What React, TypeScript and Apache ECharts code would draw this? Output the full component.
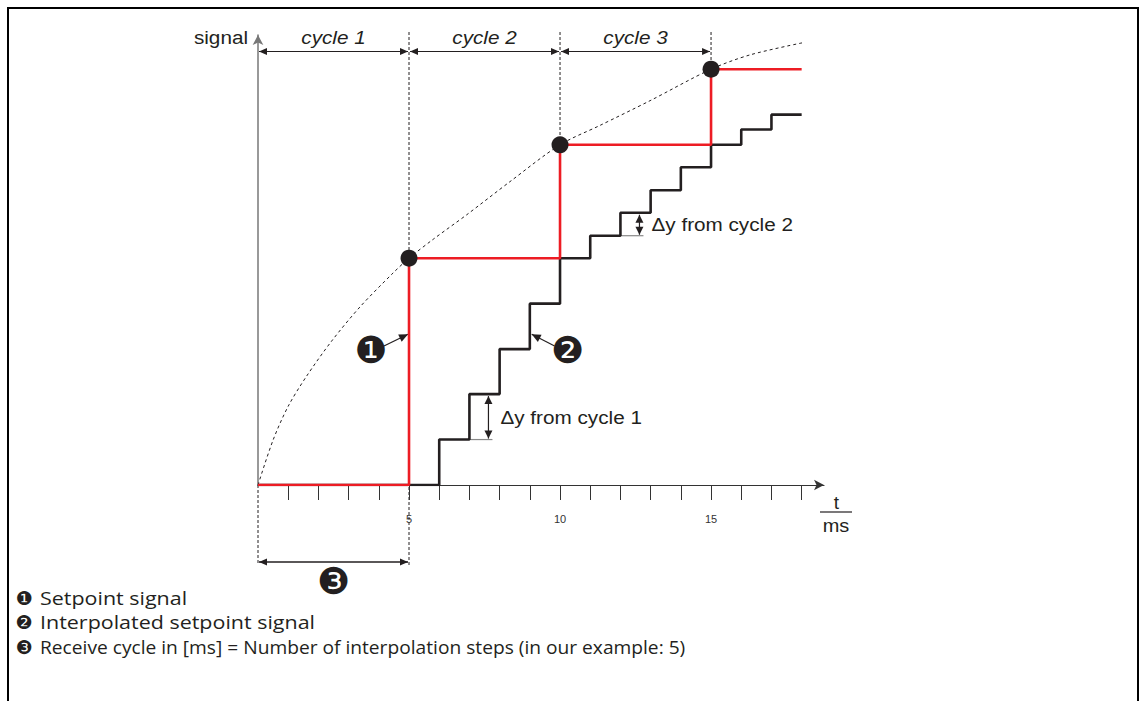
import React, { useEffect, useRef } from "react";
import * as echarts from "echarts";

// ---- data ----
const setpointT = [0, 5, 10, 15, 18];
const setpointY = [0, 50.4, 75.6, 92.4, 92.4];
const interpT = [0, 6, 7, 8, 9, 10, 11, 12, 13, 14, 15, 16, 17, 18];
const interpY = [0, 10.1, 20.2, 30.2, 40.3, 50.4, 55.4, 60.5, 65.5, 70.6, 75.6, 79.0, 82.3, 82.3];
const curveT = [0, 0.5, 1, 1.61, 2.44, 3.38, 4.47, 5, 5.8, 6.9, 8.34, 10, 11.32, 12.98, 15, 16.3, 18.05];
const curveY = [0, 10, 17.5, 24.2, 32.0, 39.6, 47.1, 50.4, 54.6, 60.0, 67.4, 75.6, 79.9, 85.4, 92.4, 95.6, 98.3];
const sampleT = [5, 10, 15];
const sampleY = [50.4, 75.6, 92.4];
const cycleBounds = [0, 5, 10, 15];
const cycleLabels = ["cycle 1", "cycle 2", "cycle 3"];
const tickValues = [1, 2, 3, 4, 5, 6, 7, 8, 9, 10, 11, 12, 13, 14, 15, 16, 17, 18];
const tickLabelValues = [5, 10, 15];
const deltaLabels = ["\u0394y from cycle 1", "\u0394y from cycle 2"];
const legendGlyphs = ["\u2776", "\u2777", "\u2778"];
const legendTexts = [
  "Setpoint signal",
  "Interpolated setpoint signal",
  "Receive cycle in [ms] = Number of interpolation steps (in our example: 5)",
];

const INK = "#231f20";
const RED = "#ed1c24";
const ARIAL = "'Liberation Sans', Arial, sans-serif";
const LEG = "'Open Sans', 'Noto Sans', sans-serif";
const SX = 1.09;
const LEG_SX = [1.13, 1.13, 1.01];

export default function App() {
  const ref = useRef<HTMLDivElement>(null);
  useEffect(() => {
    const el = ref.current!;
    const chart = echarts.init(el, null, { renderer: "svg" });
    chart.setOption({
      animation: false,
      backgroundColor: "#ffffff",
      grid: { left: 258, top: 35, width: 566, height: 450, outerBoundsMode: "none", containLabel: false },
      xAxis: {
        type: "value",
        min: 0,
        max: 18.74,
        axisLine: {
          show: true,
          symbol: ["none", "arrow"],
          symbolSize: [8, 10],
          lineStyle: { color: "#333", width: 1.2 },
        },
        axisTick: { show: true, customValues: tickValues, length: 15, lineStyle: { color: "#333", width: 1 } },
        axisLabel: { show: true, customValues: tickLabelValues, fontSize: 11, color: "#333", fontFamily: ARIAL, margin: 28 },
        splitLine: { show: false },
      },
      yAxis: {
        type: "value",
        min: 0,
        max: 100,
        axisLine: {
          show: true,
          symbol: ["none", "arrow"],
          symbolSize: [8, 10],
          lineStyle: { color: "#777", width: 1.5 },
        },
        axisTick: { show: false },
        axisLabel: { show: false },
        splitLine: { show: false },
      },
      series: [
        {
          type: "line",
          data: curveT.map((t, i) => [t, curveY[i]]),
          smooth: 0.3,
          symbol: "none",
          silent: true,
          lineStyle: { color: INK, width: 1, type: [3, 3] },
          z: 1,
        },
        {
          type: "line",
          data: interpT.map((t, i) => [t, interpY[i]]),
          step: "end",
          symbol: "none",
          lineStyle: { color: INK, width: 2.6 },
          z: 3,
        },
        {
          type: "line",
          data: setpointT.map((t, i) => [t, setpointY[i]]),
          step: "end",
          symbol: "none",
          lineStyle: { color: RED, width: 2.6 },
          z: 4,
        },
        {
          type: "scatter",
          data: sampleT.map((t, i) => [t, sampleY[i]]),
          symbolSize: 17,
          itemStyle: { color: INK, opacity: 1 },
          z: 5,
        },
      ],
    });

    const px = (t: number, v: number) => chart.convertToPixel({ gridIndex: 0 }, [t, v]) as number[];
    const els: any[] = [];
    const line = (x1: number, y1: number, x2: number, y2: number, stroke: string, w: number, dash?: number[]) =>
      els.push({
        type: "line",
        silent: true,
        shape: { x1, y1, x2, y2 },
        style: { stroke, lineWidth: w, lineDash: dash || null },
      });
    const head = (tx: number, ty: number, fx: number, fy: number, len = 8, half = 3.5, color = INK) => {
      const dx = tx - fx, dy = ty - fy;
      const d = Math.hypot(dx, dy) || 1;
      const ux = dx / d, uy = dy / d;
      const bx = tx - ux * len, by = ty - uy * len;
      els.push({
        type: "polygon",
        silent: true,
        shape: { points: [[tx, ty], [bx - uy * half, by + ux * half], [bx + uy * half, by - ux * half]] },
        style: { fill: color },
      });
    };
    const dbl = (x1: number, y1: number, x2: number, y2: number, w = 1.2, len = 8, half = 3.5) => {
      line(x1, y1, x2, y2, INK, w);
      head(x1, y1, x2, y2, len, half);
      head(x2, y2, x1, y1, len, half);
    };
    const text = (t: string, x: number, y: number, o: any, sx = 1) =>
      els.push({
        type: "text",
        silent: true,
        x,
        y,
        scaleX: sx,
        style: Object.assign({ text: t, fill: INK, verticalAlign: "middle" }, o),
      });

    // frame
    els.push({
      type: "polyline",
      silent: true,
      shape: { points: [[8, 701], [8, 8], [1138, 8], [1138, 701]] },
      style: { stroke: "#000", lineWidth: 2, fill: null },
    });

    const base = px(0, 0)[1];
    // dashed guides
    const topY = 32;
    const lowY = 565;
    const p0 = px(0, 0);
    line(p0[0], base, p0[0], lowY, INK, 1, [3, 2]);
    const p5 = px(5, sampleY[0]);
    line(p5[0], topY, p5[0], lowY, INK, 1, [3, 2]);
    for (let i = 1; i < sampleT.length; i++) {
      const p = px(sampleT[i], sampleY[i]);
      line(p[0], topY, p[0], p[1], INK, 1, [3, 2]);
    }

    // cycle arrows
    const cy = 51.5;
    for (let i = 0; i < cycleLabels.length; i++) {
      const a = px(cycleBounds[i], 0)[0];
      const b = px(cycleBounds[i + 1], 0)[0];
      dbl(a + 1, cy, b - 1, cy, 1.2, 8, 3.5);
      text(cycleLabels[i], (a + b) / 2, 37, { font: `italic 19px ${ARIAL}`, align: "center" }, SX);
    }
    text("signal", 248, 37, { font: `19px ${ARIAL}`, align: "right" }, SX);

    // unit t / ms
    text("t", 836.5, 502, { font: `19px ${ARIAL}`, align: "center" });
    line(820, 512, 852, 512, INK, 1.2);
    text("ms", 836, 525, { font: `19px ${ARIAL}`, align: "center" }, 1.05);

    // delta-y annotations
    const dAnn = [
      { t: 7.63, i: 1, ext0: 7 },
      { t: 12.63, i: 6, ext0: 12 },
    ];
    dAnn.forEach((d, k) => {
      const lo = px(d.t, interpY[d.i]);
      const hi = px(d.t, interpY[d.i + 1]);
      const e0 = px(d.ext0, interpY[d.i]);
      line(e0[0], lo[1], lo[0] + 4, lo[1], "#888", 1.2);
      dbl(lo[0], lo[1] - 1, hi[0], hi[1] + 2, 1.2, 8, 4);
      text(deltaLabels[k], lo[0] + 12, (lo[1] + hi[1]) / 2, { font: `19px ${ARIAL}`, align: "left" }, SX);
    });

    // numbered callouts
    const GF = `37px 'DejaVu Sans'`;
    const c1 = px(3.74, 30);
    const t1 = px(5, 33.5);
    line(c1[0] + 13, c1[1] - 4, t1[0] - 1, t1[1], INK, 1.2);
    head(t1[0] - 1, t1[1], c1[0] + 13, c1[1] - 4, 9, 4);
    text(legendGlyphs[0], c1[0], c1[1], { font: GF, align: "center" });

    const c2 = px(10.25, 30);
    const t2 = px(9.03, 33.5);
    line(c2[0] - 13, c2[1] - 4, t2[0] + 1, t2[1], INK, 1.2);
    head(t2[0] + 1, t2[1], c2[0] - 13, c2[1] - 4, 9, 4);
    text(legendGlyphs[1], c2[0], c2[1], { font: GF, align: "center" });

    const b0 = px(0, 0)[0];
    const b5 = px(5, 0)[0];
    dbl(b0 + 1, 562, b5 - 1, 562, 1.5, 8, 3.5);
    text(legendGlyphs[2], (b0 + b5) / 2, 581, { font: GF, align: "center" });

    // legend
    const ly = [598, 622, 647];
    for (let i = 0; i < legendTexts.length; i++) {
      text(legendGlyphs[i], 24, ly[i], { font: `19px 'DejaVu Sans'`, align: "center" });
      text(legendTexts[i], 40, ly[i], { font: `19px ${LEG}`, align: "left" }, LEG_SX[i]);
    }

    chart.setOption({ graphic: { elements: els } });
    return () => chart.dispose();
  }, []);
  return <div ref={ref} style={{ position: "absolute", left: 0, top: 0, width: 1143, height: 701 }} />;
}
